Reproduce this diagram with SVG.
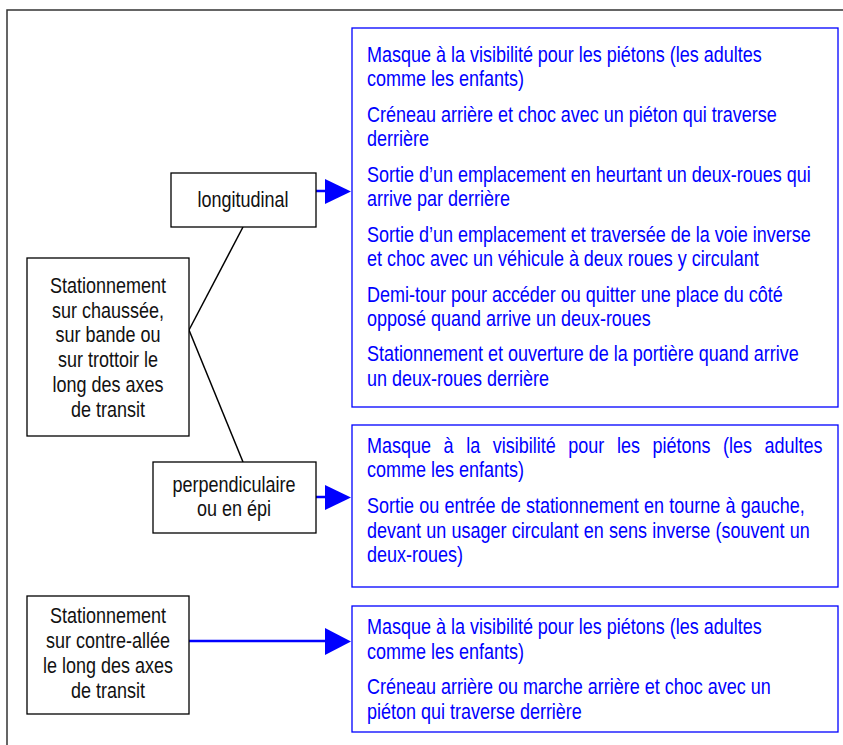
<svg xmlns="http://www.w3.org/2000/svg" width="843" height="745" viewBox="0 0 843 745">
<style>
.frame{fill:none;stroke:#333;stroke-width:1.5}
.bb{fill:#fff;stroke:#000;stroke-width:1.3}
.blb{fill:#fff;stroke:#0000ff;stroke-width:1.3}
.t{font-family:"Liberation Sans Narrow","Liberation Sans",Arial,sans-serif;font-size:22px;fill:#111;text-anchor:middle}
.bt{font-family:"Liberation Sans Narrow","Liberation Sans",Arial,sans-serif;font-size:22px;fill:#0000ff}
.ln{stroke:#000;stroke-width:1.5;fill:none}
.bl{stroke:#0000ff;stroke-width:2.5;fill:none}
</style>
<path class="frame" d="M7,745 V10 H843"/>
<g id="connectors">
<path class="ln" d="M189,330 L243,227"/>
<path class="ln" d="M189,330 L243,462"/>
<path class="bl" d="M316,191 H326"/>
<path d="M325,179 L351,191.5 L325,204 z" fill="#0000ff"/>
<path class="bl" d="M316,497 H326"/>
<path d="M325,485 L351,497.5 L325,510 z" fill="#0000ff"/>
<path class="bl" d="M189,641 H326"/>
<path d="M325,628 L351,641.5 L325,655 z" fill="#0000ff"/>
</g>
<g id="n-left">
<rect class="bb" x="27" y="258" width="162" height="178"/>
<text class="t" transform="translate(108,292.5) scale(0.818,1)">Stationnement</text>
<text class="t" transform="translate(108,317.5) scale(0.818,1)">sur chaussée,</text>
<text class="t" transform="translate(108,341.5) scale(0.818,1)">sur bande ou</text>
<text class="t" transform="translate(108,366.5) scale(0.818,1)">sur trottoir le</text>
<text class="t" transform="translate(108,391.5) scale(0.818,1)">long des axes</text>
<text class="t" transform="translate(108,416.5) scale(0.818,1)">de transit</text>
</g>
<g id="n-long">
<rect class="bb" x="171" y="173" width="145" height="54"/>
<text class="t" transform="translate(243,207) scale(0.818,1)">longitudinal</text>
</g>
<g id="n-perp">
<rect class="bb" x="153" y="462" width="163" height="71"/>
<text class="t" transform="translate(234,491.5) scale(0.818,1)">perpendiculaire</text>
<text class="t" transform="translate(234,515.5) scale(0.818,1)">ou en épi</text>
</g>
<g id="n-contre">
<rect class="bb" x="27" y="596" width="162" height="118"/>
<text class="t" transform="translate(108,623) scale(0.818,1)">Stationnement</text>
<text class="t" transform="translate(108,648) scale(0.818,1)">sur contre-allée</text>
<text class="t" transform="translate(108,673) scale(0.818,1)">le long des axes</text>
<text class="t" transform="translate(108,698) scale(0.818,1)">de transit</text>
</g>
<g id="n-risk1">
<rect class="blb" x="352" y="28" width="486" height="379"/>
<text class="bt" transform="translate(367,62) scale(0.818,1)">Masque à la visibilité pour les piétons (les adultes</text>
<text class="bt" transform="translate(367,86) scale(0.818,1)">comme les enfants)</text>
<text class="bt" transform="translate(367,122) scale(0.818,1)">Créneau arrière et choc avec un piéton qui traverse</text>
<text class="bt" transform="translate(367,146) scale(0.818,1)">derrière</text>
<text class="bt" transform="translate(367,182) scale(0.818,1)">Sortie d’un emplacement en heurtant un deux-roues qui</text>
<text class="bt" transform="translate(367,206) scale(0.818,1)">arrive par derrière</text>
<text class="bt" transform="translate(367,242) scale(0.818,1)">Sortie d’un emplacement et traversée de la voie inverse</text>
<text class="bt" transform="translate(367,266) scale(0.818,1)">et choc avec un véhicule à deux roues y circulant</text>
<text class="bt" transform="translate(367,302) scale(0.818,1)">Demi-tour pour accéder ou quitter une place du côté</text>
<text class="bt" transform="translate(367,326) scale(0.818,1)">opposé quand arrive un deux-roues</text>
<text class="bt" transform="translate(367,361) scale(0.818,1)">Stationnement et ouverture de la portière quand arrive</text>
<text class="bt" transform="translate(367,386) scale(0.818,1)">un deux-roues derrière</text>
</g>
<g id="n-risk2">
<rect class="blb" x="352" y="425" width="486" height="162"/>
<text class="bt" transform="translate(367,453) scale(0.818,1)" word-spacing="9.3">Masque à la visibilité pour les piétons (les adultes</text>
<text class="bt" transform="translate(367,477) scale(0.818,1)">comme les enfants)</text>
<text class="bt" transform="translate(367,513) scale(0.818,1)" word-spacing="0.3">Sortie ou entrée de stationnement en tourne à gauche,</text>
<text class="bt" transform="translate(367,538) scale(0.818,1)" word-spacing="0.3">devant un usager circulant en sens inverse (souvent un</text>
<text class="bt" transform="translate(367,562) scale(0.818,1)">deux-roues)</text>
</g>
<g id="n-risk3">
<rect class="blb" x="352" y="606" width="486" height="126"/>
<text class="bt" transform="translate(367,634) scale(0.818,1)">Masque à la visibilité pour les piétons (les adultes</text>
<text class="bt" transform="translate(367,659) scale(0.818,1)">comme les enfants)</text>
<text class="bt" transform="translate(367,694) scale(0.818,1)">Créneau arrière ou marche arrière et choc avec un</text>
<text class="bt" transform="translate(367,719) scale(0.818,1)">piéton qui traverse derrière</text>
</g>
</svg>
